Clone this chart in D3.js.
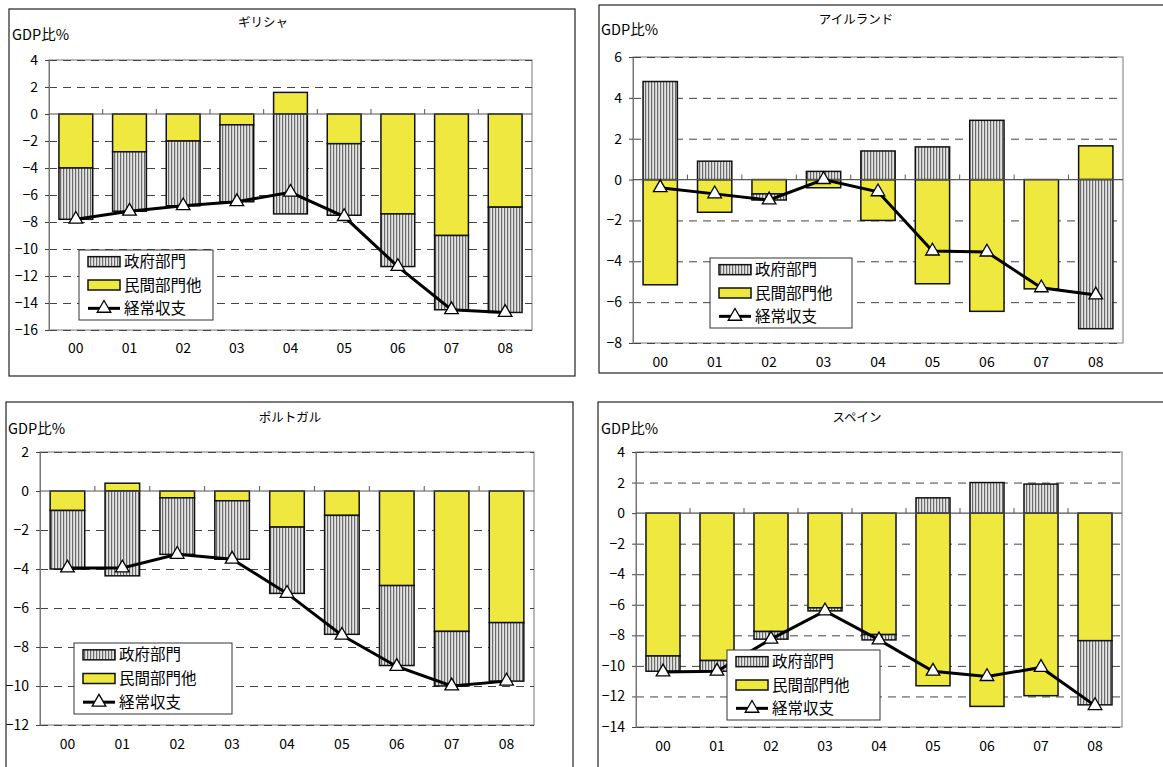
<!DOCTYPE html>
<html><head><meta charset="utf-8">
<script src="https://cdn.jsdelivr.net/npm/d3@7/dist/d3.min.js"></script>
<style>body{margin:0;background:#fff;}svg{display:block;}text{font-family:"Noto Sans CJK JP","Noto Sans",sans-serif;fill:#000;}</style>
</head><body>
<script>
const years = ["00","01","02","03","04","05","06","07","08"];
const seriesNames = ["政府部門","民間部門他","経常収支"];
const yUnit = "GDP比%";

const greeceTitle = "ギリシャ";
const greeceGov  = [-3.8,-4.4,-4.8,-5.7,-7.4,-5.3,-3.9,-5.5,-7.8];
const greecePriv = [-4.0,-2.8,-2.0,-0.8, 1.6,-2.2,-7.4,-9.0,-6.9];
const greeceCA   = [-7.8,-7.2,-6.8,-6.5,-5.8,-7.6,-11.3,-14.5,-14.7];
const greeceTicks = [4,2,0,-2,-4,-6,-8,-10,-12,-14,-16];

const irelandTitle = "アイルランド";
const irelandGov  = [4.8, 0.9,-0.3, 0.4, 1.4, 1.6, 2.9, 0.0,-7.3];
const irelandPriv = [-5.15,-1.6,-0.7,-0.4,-2.0,-5.1,-6.45,-5.35, 1.65];
const irelandCA   = [-0.4,-0.7,-1.0, 0.0,-0.6,-3.5,-3.55,-5.3,-5.65];
const irelandTicks = [6,4,2,0,-2,-4,-6,-8];

const portugalTitle = "ポルトガル";
const portugalGov  = [-3.0,-4.35,-2.9,-3.0,-3.4,-6.1,-4.1,-2.8,-3.0];
const portugalPriv = [-1.0, 0.4,-0.35,-0.5,-1.85,-1.25,-4.85,-7.2,-6.75];
const portugalCA   = [-3.95,-3.95,-3.25,-3.5,-5.25,-7.4,-9.0,-10.0,-9.75];
const portugalTicks = [2,0,-2,-4,-6,-8,-10,-12];

const spainTitle = "スペイン";
const spainGov  = [-1.0,-0.7,-0.5,-0.2,-0.35, 1.0, 2.0, 1.9,-4.2];
const spainPriv = [-9.35,-9.65,-7.75,-6.2,-7.95,-11.3,-12.65,-11.95,-8.35];
const spainCA   = [-10.4,-10.35,-8.25,-6.4,-8.3,-10.35,-10.7,-10.1,-12.6];
const spainTicks = [4,2,0,-2,-4,-6,-8,-10,-12,-14];

const W = 1163, H = 767;
const svg = d3.select("body").append("svg").attr("width", W).attr("height", H);

const defs = svg.append("defs");
const pat = defs.append("pattern").attr("id","stripe").attr("patternUnits","userSpaceOnUse")
  .attr("width",3).attr("height",4);
pat.append("rect").attr("width",3).attr("height",4).attr("fill","#e4e4e4");
pat.append("rect").attr("x",0).attr("width",1.2).attr("height",4).attr("fill","#6a6a6a");

const YELLOW = "#efe93f";
const NUMFONT = "Liberation Sans, Arial, sans-serif";

const panels = [
  {title:greeceTitle, gov:greeceGov, priv:greecePriv, ca:greeceCA, ticks:greeceTicks,
   box:[9,9,575,376], plot:[49,60,532,330], titlePos:[263,27], unitPos:[12,40], xLabY:353,
   legend:[79,250,213,320]},
  {title:irelandTitle, gov:irelandGov, priv:irelandPriv, ca:irelandCA, ticks:irelandTicks,
   box:[599,5,1175,373], plot:[633,57,1123,343], titlePos:[856,24], unitPos:[601,35], xLabY:367,
   legend:[710,258,852,328]},
  {title:portugalTitle, gov:portugalGov, priv:portugalPriv, ca:portugalCA, ticks:portugalTicks,
   box:[6,402,573,780], plot:[40,452,534,725], titlePos:[290,422], unitPos:[8,434], xLabY:749,
   legend:[74,643,232,714]},
  {title:spainTitle, gov:spainGov, priv:spainPriv, ca:spainCA, ticks:spainTicks,
   box:[598,402,1175,780], plot:[636,452,1122,727], titlePos:[857,422], unitPos:[601,434], xLabY:751,
   legend:[727,650,880,720]}
];

panels.forEach(p => {
  const g = svg.append("g");
  g.append("rect").attr("x",p.box[0]).attr("y",p.box[1])
    .attr("width",p.box[2]-p.box[0]).attr("height",p.box[3]-p.box[1])
    .attr("fill","#fff").attr("stroke","#222").attr("stroke-width",1.2);

  const [x0,y0,x1,y1] = p.plot;
  const x = d3.scaleBand().domain(years).range([x0,x1]).paddingInner(0.37).paddingOuter(0.185);
  const xb = d3.scaleBand().domain(years).range([x0,x1]);
  const y = d3.scaleLinear().domain([d3.min(p.ticks), d3.max(p.ticks)]).range([y1,y0]);

  g.append("rect").attr("x",x0).attr("y",y0).attr("width",x1-x0).attr("height",y1-y0)
    .attr("fill","none").attr("stroke","#777").attr("stroke-width",1);
  g.append("g").selectAll("line").data(p.ticks.filter(t=>t!==0)).join("line")
    .attr("x1",x0).attr("x2",x1).attr("y1",d=>y(d)+0.5).attr("y2",d=>y(d)+0.5)
    .attr("stroke","#444").attr("stroke-width",1).attr("stroke-dasharray","8,6");
  const ya = d3.axisLeft(y).tickValues(p.ticks).tickSize(4).tickFormat(d=>d<0?"\u2212"+Math.abs(d):d);
  const yg = g.append("g").attr("transform",`translate(${x0},0)`).call(ya);
  yg.select(".domain").attr("stroke","#777");
  yg.selectAll(".tick line").attr("stroke","#444");
  yg.selectAll("text").attr("font-size",14).attr("x",-11).attr("font-family",NUMFONT);

  g.append("g").selectAll("text").data(years).join("text")
    .attr("x",d=>xb(d)+xb.bandwidth()/2).attr("y",p.xLabY).attr("text-anchor","middle")
    .attr("font-size",14).attr("font-family",NUMFONT).text(d=>d);

  const rows = years.map((yr,i)=>({yr, gov:p.gov[i], priv:p.priv[i]}));
  const stack = d3.stack().keys(["priv","gov"]).offset(d3.stackOffsetDiverging);
  const layers = stack(rows);
  layers.forEach(layer=>{
    const key = layer.key;
    g.append("g").selectAll("rect").data(layer).join("rect")
      .attr("x",d=>x(d.data.yr)).attr("width",x.bandwidth())
      .attr("y",d=>y(Math.max(d[0],d[1]))).attr("height",d=>Math.abs(y(d[0])-y(d[1])))
      .attr("fill",key==="gov"?"url(#stripe)":YELLOW)
      .attr("stroke","#111").attr("stroke-width",1.5)
      .attr("display",d=>Math.abs(d[1]-d[0])<0.01?"none":null);
  });

  g.append("line").attr("x1",x0).attr("x2",x1).attr("y1",y(0)).attr("y2",y(0))
    .attr("stroke","#555").attr("stroke-width",1.2);
  g.append("g").selectAll("line").data(years.slice(1)).join("line")
    .attr("x1",d=>xb(d)).attr("x2",d=>xb(d)).attr("y1",y(0)).attr("y2",y(0)-5)
    .attr("stroke","#555").attr("stroke-width",1);

  const pts = years.map((yr,i)=>[xb(yr)+xb.bandwidth()/2, y(p.ca[i])]);
  g.append("path").attr("d",d3.line()(pts)).attr("fill","none").attr("stroke","#000").attr("stroke-width",3);
  const tri = d3.symbol().type(d3.symbolTriangle).size(80);
  g.append("g").selectAll("path").data(pts).join("path")
    .attr("transform",d=>`translate(${d[0]},${d[1]})`).attr("d",tri())
    .attr("fill","#fff").attr("stroke","#000").attr("stroke-width",1.3);

  g.append("text").attr("x",p.titlePos[0]).attr("y",p.titlePos[1]).attr("text-anchor","middle")
    .attr("font-size",12.5).text(p.title);
  g.append("text").attr("x",p.unitPos[0]).attr("y",p.unitPos[1]).attr("font-size",14.5).text(yUnit);

  const [lx0,ly0,lx1,ly1] = p.legend;
  const lg = g.append("g");
  lg.append("rect").attr("x",lx0).attr("y",ly0).attr("width",lx1-lx0).attr("height",ly1-ly0)
    .attr("fill","#fff").attr("stroke","#333").attr("stroke-width",1);
  const rowH = (ly1-ly0)/3;
  seriesNames.forEach((nm,i)=>{
    const cy = ly0 + rowH*(i+0.5);
    const sx = lx0+9;
    if(i<2){
      lg.append("rect").attr("x",sx).attr("y",cy-5).attr("width",32).attr("height",10)
        .attr("fill",i===0?"url(#stripe)":YELLOW).attr("stroke","#111").attr("stroke-width",1.5);
    } else {
      lg.append("line").attr("x1",sx).attr("x2",sx+32).attr("y1",cy).attr("y2",cy)
        .attr("stroke","#000").attr("stroke-width",3);
      lg.append("path").attr("transform",`translate(${sx+16},${cy})`).attr("d",tri())
        .attr("fill","#fff").attr("stroke","#000").attr("stroke-width",1.3);
    }
    lg.append("text").attr("x",sx+36).attr("y",cy+5.5).attr("font-size",15.5).text(nm);
  });
});
</script>
</body></html>
